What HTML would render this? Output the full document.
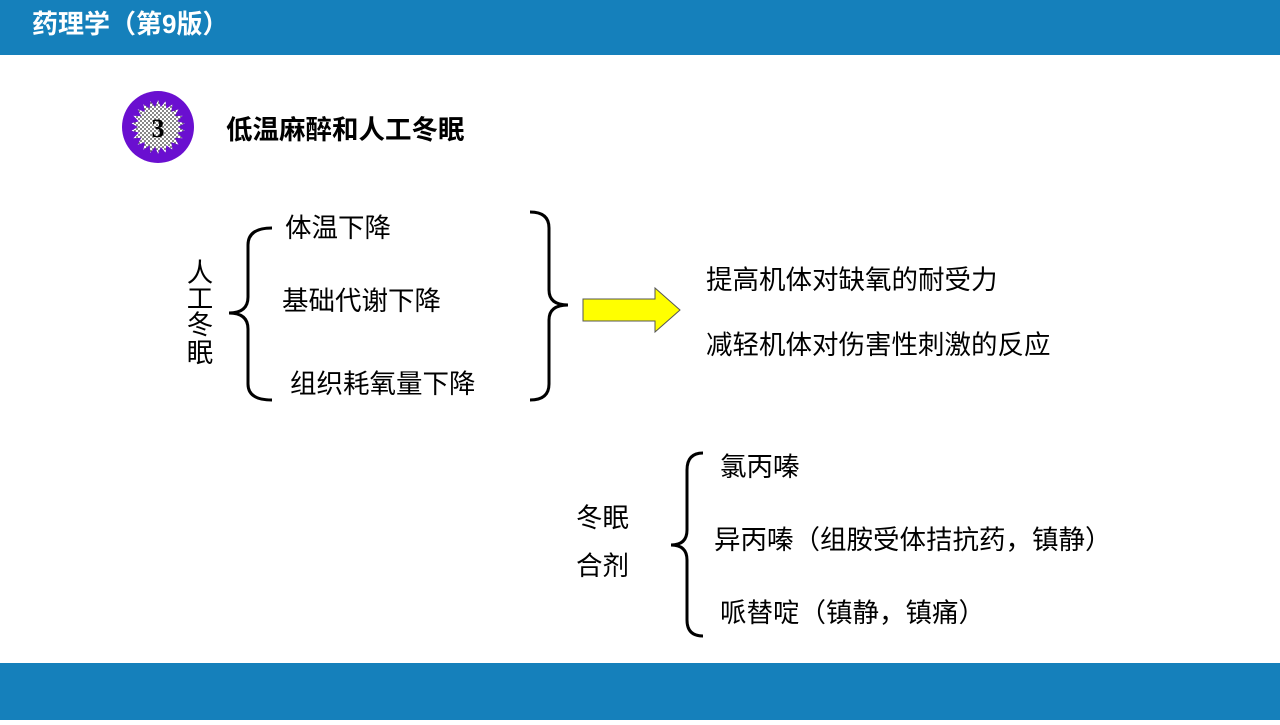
<!DOCTYPE html>
<html><head><meta charset="utf-8"><style>
html,body{margin:0;padding:0;background:#fff}
svg text{font-family:"Liberation Sans","Noto Sans CJK SC",sans-serif;fill:#000}
</style></head><body>
<svg width="1280" height="720" viewBox="0 0 1280 720" xmlns="http://www.w3.org/2000/svg">
<defs>
<pattern id="dots" width="4" height="4" patternUnits="userSpaceOnUse">
<rect width="4" height="4" fill="#fff"/><circle cx="1" cy="1" r="0.9" fill="#333"/><circle cx="3" cy="3" r="0.9" fill="#333"/>
</pattern>
</defs>
<rect x="0" y="0" width="1280" height="55" fill="#1580bb"/>
<text x="32" y="33" font-size="26" font-weight="bold" style="fill:#fff">药理学（第9版）</text>
<rect x="0" y="663" width="1280" height="57" fill="#1580bb"/>

<circle cx="158" cy="127" r="36" fill="#6a0fd0"/>
<polygon id="star" fill="url(#dots)"/>
<text x="158" y="137" font-size="26" font-weight="bold" text-anchor="middle" style="font-family:'Liberation Serif',serif">3</text>
<text x="226" y="139" font-size="26.5" font-weight="bold">低温麻醉和人工冬眠</text>

<g font-size="26.5">
<text x="200" y="282" text-anchor="middle">人</text>
<text x="200" y="308" text-anchor="middle">工</text>
<text x="200" y="334" text-anchor="middle">冬</text>
<text x="200" y="362" text-anchor="middle">眠</text>
<text x="285" y="237">体温下降</text>
<text x="282" y="310">基础代谢下降</text>
<text x="290" y="393">组织耗氧量下降</text>
<text x="706" y="289">提高机体对缺氧的耐受力</text>
<text x="706" y="354">减轻机体对伤害性刺激的反应</text>
<text x="576" y="527">冬眠</text>
<text x="576" y="575">合剂</text>
<text x="720" y="476">氯丙嗪</text>
<text x="714" y="549">异丙嗪（组胺受体拮抗药，镇静）</text>
<text x="720" y="622">哌替啶（镇静，镇痛）</text>
</g>

<g fill="none" stroke="#000" stroke-width="3">
<path d="M272,228 Q248,228 248,245 L248,297 Q248,313 229,313 Q248,313 248,329 L248,384 Q248,400 272,400"/>
<path d="M530,212 Q549,212 549,228 L549,290 Q549,305 568,305 Q549,305 549,320 L549,384 Q549,400 530,400"/>
<path d="M703,453 Q687,453 687,470 L687,530 Q687,545 671,545 Q687,545 687,560 L687,620 Q687,636 703,636"/>
</g>
<polygon points="583,299 655,299 655,288 680,310 655,332 655,321 583,321" fill="#ffff00" stroke="#555" stroke-width="1"/>
</svg>
<script>
var p=[],cx=158,cy=127,n=22;
for(var i=0;i<n*2;i++){var r=i%2?20:27,a=Math.PI*i/n-Math.PI/2;p.push((cx+r*Math.cos(a)).toFixed(1)+","+(cy+r*Math.sin(a)).toFixed(1));}
document.getElementById("star").setAttribute("points",p.join(" "));
</script>
</body></html>
